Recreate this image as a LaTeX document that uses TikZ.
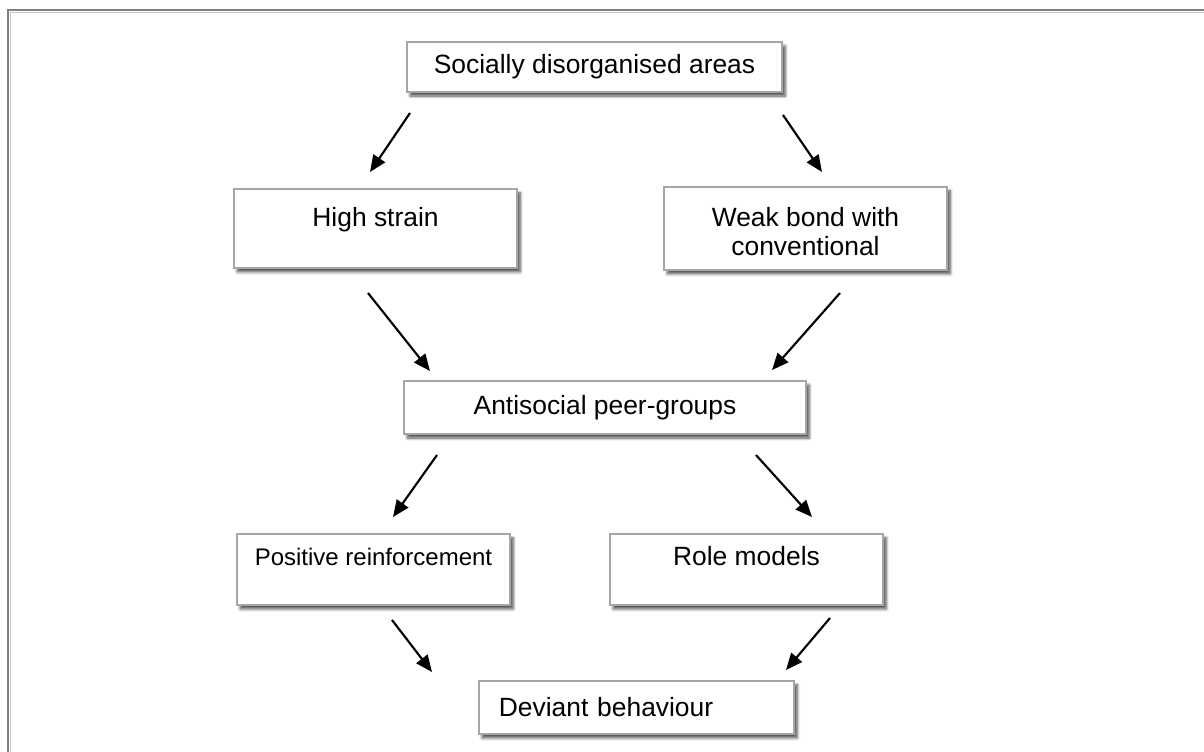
\documentclass[tikz,border=0pt]{standalone}
\usepackage{fontspec}
\setmainfont{Liberation Sans}
\usetikzlibrary{arrows.meta,shadows.blur}
\definecolor{framegray}{RGB}{128,128,128}
\definecolor{framelight}{RGB}{200,200,200}
\definecolor{boxgray}{RGB}{166,166,166}
\tikzset{
  card/.style={draw=boxgray, line width=1.4pt, fill=white,
    inner xsep=0pt, inner ysep=0pt,
    font=\fontsize{19.8}{21.75}\selectfont,
    blur shadow={shadow xshift=2.4pt, shadow yshift=-3pt,
      shadow blur radius=2.2pt, shadow opacity=70, shadow blur steps=6}},
  smalltext/.style={font=\fontsize{18}{21.75}\selectfont},
  flow/.style={-{Triangle[length=12.5pt,width=10.5pt]}, line width=1.6pt, black},
}
\begin{document}
\begin{tikzpicture}[x=0.75pt,y=-0.75pt]
\useasboundingbox (0,0) rectangle (1204,751);
% page frame (runs off the right and bottom edges)
\draw[framegray, line width=1.6pt] (8,10) rectangle (1230,780);
\draw[framelight, line width=0.6pt] (10,12) rectangle (1228,778);

% boxes
\node[card, minimum width=281.25pt, minimum height=37.5pt] (areas) at (594.5,67) {Socially disorganised areas};
\node[card, anchor=north, minimum width=212.25pt, text height=28.5pt, text depth=30.75pt] (strain) at (375.5,188) {High strain};
\node[card, anchor=north, minimum width=212.25pt, text height=51.5pt, text depth=10.7pt, align=center] (bond) at (805.5,186) {Weak bond with\\conventional};
\node[card, minimum width=301.5pt, minimum height=39.75pt] (peers) at (605,407.5) {Antisocial peer-groups};
\node[card, smalltext, anchor=north, minimum width=204.75pt, text height=24pt, text depth=29.25pt] (reinf) at (373.5,533) {Positive reinforcement};
\node[card, anchor=north, minimum width=204.75pt, text height=24pt, text depth=29.25pt] (role) at (746.5,533) {Role models};
\node[card, anchor=north west, text width=206.25pt, inner xsep=15pt, minimum height=39.75pt, align=left] (deviant) at (478,680) {Deviant behaviour};

% arrow end points
\coordinate (a1s) at (410,113);  \coordinate (a1e) at (370,172);
\coordinate (a2s) at (783,115);  \coordinate (a2e) at (822,172);
\coordinate (a3s) at (368,293);  \coordinate (a3e) at (430,371);
\coordinate (a4s) at (840,293);  \coordinate (a4e) at (772,370);
\coordinate (a5s) at (437,455);  \coordinate (a5e) at (393,517);
\coordinate (a6s) at (756,455);  \coordinate (a6e) at (812,517);
\coordinate (a7s) at (392,620);  \coordinate (a7e) at (432,672);
\coordinate (a8s) at (830,618);  \coordinate (a8e) at (786,670);

\draw[flow] (a1s) -- (a1e);
\draw[flow] (a2s) -- (a2e);
\draw[flow] (a3s) -- (a3e);
\draw[flow] (a4s) -- (a4e);
\draw[flow] (a5s) -- (a5e);
\draw[flow] (a6s) -- (a6e);
\draw[flow] (a7s) -- (a7e);
\draw[flow] (a8s) -- (a8e);
\end{tikzpicture}
\end{document}
